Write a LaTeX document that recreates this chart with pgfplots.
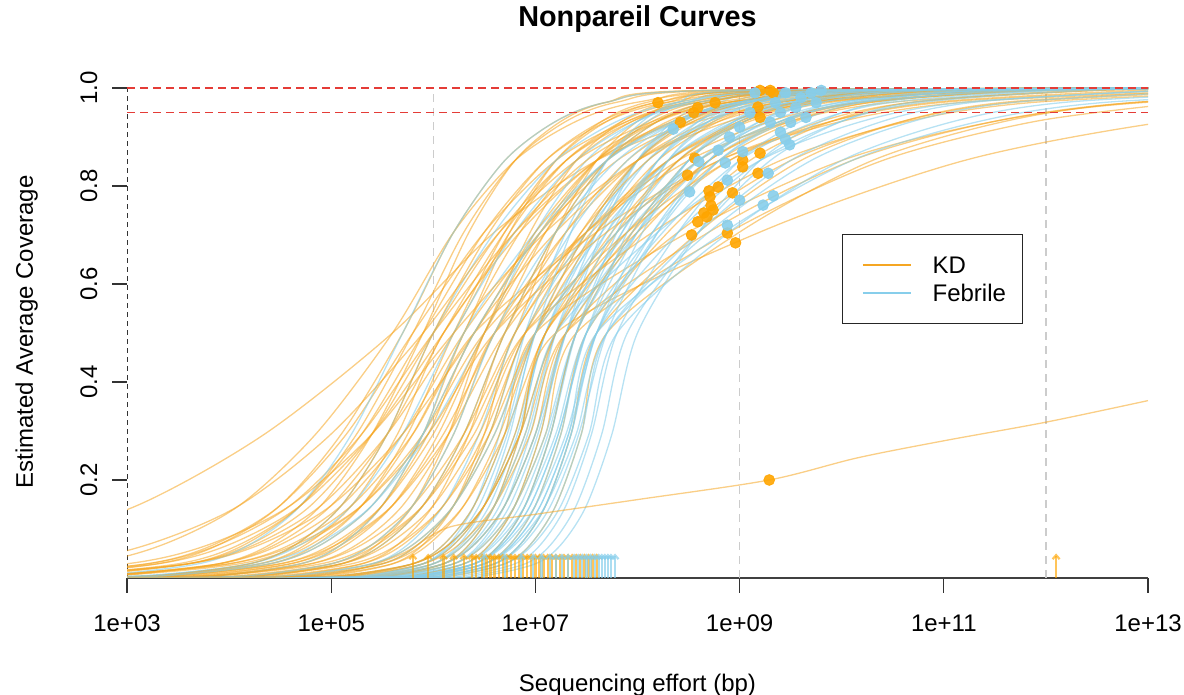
\documentclass[border=0pt]{standalone}
\usepackage{pgfplots}
\pgfplotsset{compat=1.18}
\usepackage{fontspec}
\setmainfont{Liberation Sans}
\usetikzlibrary{arrows.meta}

\definecolor{kdcol}{RGB}{245,166,35}
\definecolor{febcol}{RGB}{135,206,235}
\definecolor{kddot}{RGB}{255,165,0}
\definecolor{febdot}{RGB}{135,206,235}
\definecolor{refred}{RGB}{228,60,55}

\pgfplotsset{
  kd/.style={draw=kdcol, line width=0.65pt, draw opacity=0.55, smooth},
  feb/.style={draw=febcol, line width=0.65pt, draw opacity=0.6, smooth},
}

\begin{document}
\begin{tikzpicture}
\useasboundingbox (0,0) rectangle (592pt,347.5pt);
\begin{axis}[
  at={(63.5pt,58.5pt)}, anchor=south west,
  scale only axis, width=510.5pt, height=245pt,
  xmin=3, xmax=13, ymin=0, ymax=1,
  axis x line*=bottom, axis y line*=left,
  x axis line style={-, black!75, line width=0.7pt},
  y axis line style={-, black!80, line width=0.5pt, dash pattern=on 2.5pt off 2pt},
  xtick={3,5,7,9,11,13},
  xticklabels={1e+03,1e+05,1e+07,1e+09,1e+11,1e+13},
  ytick={0.2,0.4,0.6,0.8,1.0},
  yticklabels={0.2,0.4,0.6,0.8,1.0},
  minor tick num=0,
  tick align=outside, major tick length=7.5pt,
  tick style={black!80, line width=0.6pt},
  font=\fontsize{12}{14}\selectfont,
  xticklabel style={anchor=base},
  yticklabel style={rotate=90, anchor=base},
  xticklabel shift=19.5pt,
  yticklabel shift=7.5pt,
  title={Nonpareil Curves},
  title style={at={(axis description cs:0.5,1.1)}, anchor=base, font=\bfseries\fontsize{14.4}{17}\selectfont},
  xlabel={Sequencing effort (bp)},
  xlabel style={at={(axis description cs:0.5,-0.2316)}, anchor=base},
  ylabel={Estimated Average Coverage},
  ylabel style={at={(axis description cs:-0.0921,0.502)}, anchor=base},
  legend style={at={(axis description cs:0.7,0.702)}, anchor=north west,
    draw=black!85, line width=0.6pt, fill=white,
    font=\fontsize{12}{14}\selectfont,
    inner xsep=8.4pt, inner ysep=10.9pt, row sep=5.4pt,
    nodes={inner sep=0pt, text height=8.6pt, text depth=0pt}},
  legend cell align=left,
  legend image code/.code={\path (-1.6pt,0pt); \draw[#1, draw opacity=1] (0pt,0pt) -- (24pt,0pt); \path (34.5pt,0pt);},
]
\addlegendimage{kd}
\addlegendentry{KD}
\addlegendimage{feb}
\addlegendentry{Febrile}

% reference effort levels (1 Mbp, 1 Gbp, 1 Tbp)
\addplot[gray!40, line width=0.6pt, dash pattern=on 4pt off 3pt] coordinates {(6,0)(6,1)};
\addplot[gray!40, line width=0.6pt, dash pattern=on 4pt off 3pt] coordinates {(9,0)(9,1)};
\addplot[gray!40, line width=0.6pt, dash pattern=on 4pt off 3pt] coordinates {(12,0)(12,1)};

% KD curves (x = log10 of sequencing effort)
\addplot[kd] coordinates {(-4.4,.001)(-1.9,.005)(0.6,.029)(1.85,.068)(3.1,.148)(4.35,.294)(5.6,.5)(6.6,.706)(7.6,.852)(8.6,.932)(9.6,.971)(11.6,.995)(14,1)};
\addplot[kd] coordinates {(-0.4,.001)(1.1,.005)(2.6,.029)(3.35,.068)(4.1,.148)(4.85,.294)(5.6,.5)(6.2,.706)(6.8,.852)(7.4,.932)(8,.971)(9.2,.995)(14,1)};
\addplot[kd] coordinates {(0.9,.001)(2.1,.005)(3.3,.029)(3.9,.068)(4.5,.148)(5.1,.294)(5.7,.5)(6.2,.706)(6.7,.852)(7.2,.932)(7.7,.971)(8.7,.995)(14,1)};
\addplot[kd] coordinates {(0.6,.001)(1.9,.005)(3.2,.029)(3.85,.068)(4.5,.148)(5.15,.294)(5.8,.5)(6.5,.706)(7.2,.852)(7.9,.932)(8.6,.971)(10,.995)(14,1)};
\addplot[kd] coordinates {(1.9,.001)(2.9,.005)(3.9,.029)(4.4,.068)(4.9,.148)(5.4,.294)(5.9,.5)(6.35,.706)(6.8,.852)(7.25,.932)(7.7,.971)(8.6,.995)(14,1)};
\addplot[kd] coordinates {(0.4,.001)(1.8,.005)(3.2,.029)(3.9,.068)(4.6,.148)(5.3,.294)(6,.5)(6.8,.706)(7.6,.852)(8.4,.932)(9.2,.971)(10.8,.995)(14,1)};
\addplot[kd] coordinates {(1.7,.001)(2.8,.005)(3.9,.029)(4.45,.068)(5,.148)(5.55,.294)(6.1,.5)(6.7,.706)(7.3,.852)(7.9,.932)(8.5,.971)(9.7,.995)(14,1)};
\addplot[kd] coordinates {(2,0)(2.6,.001)(3.5,.005)(4.4,.029)(4.85,.068)(5.3,.148)(5.75,.294)(6.2,.5)(6.7,.706)(7.2,.852)(7.7,.932)(8.2,.971)(9.2,.995)(14,1)};
\addplot[kd] coordinates {(1.5,.001)(2.7,.005)(3.9,.029)(4.5,.068)(5.1,.148)(5.7,.294)(6.3,.5)(7.05,.706)(7.8,.852)(8.55,.932)(9.3,.971)(10.8,.995)(14,1)};
\addplot[kd] coordinates {(2,0)(3.1,.001)(3.9,.005)(4.7,.029)(5.1,.068)(5.5,.148)(5.9,.294)(6.3,.5)(6.85,.706)(7.4,.852)(7.95,.932)(8.5,.971)(9.6,.995)(14,1)};
\addplot[kd] coordinates {(2,0)(2.4,.001)(3.4,.005)(4.4,.029)(4.9,.068)(5.4,.148)(5.9,.294)(6.4,.5)(7.05,.706)(7.7,.852)(8.35,.932)(9,.971)(10.3,.995)(14,1)};
\addplot[kd] coordinates {(2,0)(2.9,.001)(3.8,.005)(4.7,.029)(5.15,.068)(5.6,.148)(6.05,.294)(6.5,.5)(6.95,.706)(7.4,.852)(7.85,.932)(8.3,.971)(9.2,.995)(14,1)};
\addplot[kd] coordinates {(1.7,.001)(2.9,.005)(4.1,.029)(4.7,.068)(5.3,.148)(5.9,.294)(6.5,.5)(7.5,.706)(8.5,.852)(9.5,.932)(10.5,.971)(12.5,.995)(14,1)};
\addplot[kd] coordinates {(2,0)(3.4,.001)(4.2,.005)(5,.029)(5.4,.068)(5.8,.148)(6.2,.294)(6.6,.5)(7.3,.706)(8,.852)(8.7,.932)(9.4,.971)(10.8,.995)(14,1)};
\addplot[kd] coordinates {(2,0)(2.6,.001)(3.6,.005)(4.6,.029)(5.1,.068)(5.6,.148)(6.1,.294)(6.6,.5)(7.1,.706)(7.6,.852)(8.1,.932)(8.6,.971)(9.6,.995)(14,1)};
\addplot[kd] coordinates {(2,0)(3.9,.001)(4.6,.005)(5.3,.029)(5.65,.068)(6,.148)(6.35,.294)(6.7,.5)(7.3,.706)(7.9,.852)(8.5,.932)(9.1,.971)(10.3,.995)(14,1)};
\addplot[kd] coordinates {(2,0)(2.3,.001)(3.4,.005)(4.5,.029)(5.05,.068)(5.6,.148)(6.15,.294)(6.7,.5)(7.5,.706)(8.3,.852)(9.1,.932)(9.9,.971)(11.5,.995)(14,1)};
\addplot[kd] coordinates {(2,0)(3.2,.001)(4.1,.005)(5,.029)(5.45,.068)(5.9,.148)(6.35,.294)(6.8,.5)(7.2,.706)(7.6,.852)(8,.932)(8.4,.971)(9.2,.995)(14,1)};
\addplot[kd] coordinates {(2,0)(4.4,.001)(5,.005)(5.6,.029)(5.9,.068)(6.2,.148)(6.5,.294)(6.8,.5)(7.55,.706)(8.3,.852)(9.05,.932)(9.8,.971)(11.3,.995)(14,1)};
\addplot[kd] coordinates {(2,0)(3.7,.001)(4.5,.005)(5.3,.029)(5.7,.068)(6.1,.148)(6.5,.294)(6.9,.5)(7.45,.706)(8,.852)(8.55,.932)(9.1,.971)(10.2,.995)(14,1)};
\addplot[kd] coordinates {(1.4,.001)(2.5,.005)(3.6,.029)(4.15,.068)(4.7,.148)(5.25,.294)(5.8,.5)(6.3,.706)(6.8,.852)(7.3,.932)(7.8,.971)(8.8,.995)(14,1)};
\addplot[kd] coordinates {(1.2,.001)(2.4,.005)(3.6,.029)(4.2,.068)(4.8,.148)(5.4,.294)(6,.5)(6.65,.706)(7.3,.852)(7.95,.932)(8.6,.971)(9.9,.995)(14,1)};
\addplot[kd] coordinates {(2,0)(2.5,.001)(3.4,.005)(4.3,.029)(4.75,.068)(5.2,.148)(5.65,.294)(6.1,.5)(6.85,.706)(7.6,.852)(8.35,.932)(9.1,.971)(10.6,.995)(14,1)};
\addplot[kd] coordinates {(1,.001)(2.3,.005)(3.6,.029)(4.25,.068)(4.9,.148)(5.55,.294)(6.2,.5)(6.75,.706)(7.3,.852)(7.85,.932)(8.4,.971)(9.5,.995)(14,1)};
\addplot[kd] coordinates {(2,0)(2.3,.001)(3.3,.005)(4.3,.029)(4.8,.068)(5.3,.148)(5.8,.294)(6.3,.5)(6.75,.706)(7.2,.852)(7.65,.932)(8.1,.971)(9,.995)(14,1)};

% Febrile curves
\addplot[feb] coordinates {(1.7,.001)(2.7,.005)(3.7,.029)(4.2,.068)(4.7,.148)(5.2,.294)(5.7,.5)(6.2,.706)(6.7,.852)(7.2,.932)(7.7,.971)(8.7,.995)(14,1)};
\addplot[feb] coordinates {(2,0)(2.4,.001)(3.3,.005)(4.2,.029)(4.65,.068)(5.1,.148)(5.55,.294)(6,.5)(6.6,.706)(7.2,.852)(7.8,.932)(8.4,.971)(9.6,.995)(14,1)};
\addplot[feb] coordinates {(2,0)(3.1,.001)(3.9,.005)(4.7,.029)(5.1,.068)(5.5,.148)(5.9,.294)(6.3,.5)(7,.706)(7.7,.852)(8.4,.932)(9.1,.971)(10.5,.995)(14,1)};
\addplot[feb] coordinates {(2,0)(2.1,.001)(3.2,.005)(4.3,.029)(4.85,.068)(5.4,.148)(5.95,.294)(6.5,.5)(7,.706)(7.5,.852)(8,.932)(8.5,.971)(9.5,.995)(14,1)};
\addplot[feb] coordinates {(2,0)(4,.001)(4.7,.005)(5.4,.029)(5.75,.068)(6.1,.148)(6.45,.294)(6.8,.5)(7.35,.706)(7.9,.852)(8.45,.932)(9,.971)(10.1,.995)(14,1)};
\addplot[feb] coordinates {(2,0)(4.9,.001)(5.4,.005)(5.9,.029)(6.15,.068)(6.4,.148)(6.65,.294)(6.9,.5)(7.3,.706)(7.7,.852)(8.1,.932)(8.5,.971)(9.3,.995)(14,1)};
\addplot[feb] coordinates {(2,0)(5,.001)(5.5,.005)(6,.029)(6.25,.068)(6.5,.148)(6.75,.294)(7,.5)(7.5,.706)(8,.852)(8.5,.932)(9,.971)(10,.995)(14,1)};
\addplot[feb] coordinates {(2,0)(4.6,.001)(5.2,.005)(5.8,.029)(6.1,.068)(6.4,.148)(6.7,.294)(7,.5)(7.65,.706)(8.3,.852)(8.95,.932)(9.6,.971)(10.9,.995)(14,1)};
\addplot[feb] coordinates {(2,0)(4.9,.001)(5.45,.005)(6,.029)(6.275,.068)(6.55,.148)(6.825,.294)(7.1,.5)(7.55,.706)(8,.852)(8.45,.932)(8.9,.971)(9.8,.995)(14,1)};
\addplot[feb] coordinates {(2,0)(5.1,.001)(5.6,.005)(6.1,.029)(6.35,.068)(6.6,.148)(6.85,.294)(7.1,.5)(7.7,.706)(8.3,.852)(8.9,.932)(9.5,.971)(10.7,.995)(14,1)};
\addplot[feb] coordinates {(2,0)(5.2,.001)(5.7,.005)(6.2,.029)(6.45,.068)(6.7,.148)(6.95,.294)(7.2,.5)(7.6,.706)(8,.852)(8.4,.932)(8.8,.971)(9.6,.995)(14,1)};
\addplot[feb] coordinates {(2,0)(5,.001)(5.55,.005)(6.1,.029)(6.375,.068)(6.65,.148)(6.925,.294)(7.2,.5)(7.7,.706)(8.2,.852)(8.7,.932)(9.2,.971)(10.2,.995)(14,1)};
\addplot[feb] coordinates {(2,0)(5.3,.001)(5.8,.005)(6.3,.029)(6.55,.068)(6.8,.148)(7.05,.294)(7.3,.5)(7.85,.706)(8.4,.852)(8.95,.932)(9.5,.971)(10.6,.995)(14,1)};
\addplot[feb] coordinates {(2,0)(5.1,.001)(5.65,.005)(6.2,.029)(6.475,.068)(6.75,.148)(7.025,.294)(7.3,.5)(7.65,.706)(8,.852)(8.35,.932)(8.7,.971)(9.4,.995)(14,1)};
\addplot[feb] coordinates {(2,0)(4.9,.001)(5.5,.005)(6.1,.029)(6.4,.068)(6.7,.148)(7,.294)(7.3,.5)(8,.706)(8.7,.852)(9.4,.932)(10.1,.971)(11.5,.995)(14,1)};
\addplot[feb] coordinates {(2,0)(5.2,.001)(5.75,.005)(6.3,.029)(6.575,.068)(6.85,.148)(7.125,.294)(7.4,.5)(7.85,.706)(8.3,.852)(8.75,.932)(9.2,.971)(10.1,.995)(14,1)};
\addplot[feb] coordinates {(2,0)(5.4,.001)(5.9,.005)(6.4,.029)(6.65,.068)(6.9,.148)(7.15,.294)(7.4,.5)(8,.706)(8.6,.852)(9.2,.932)(9.8,.971)(11,.995)(14,1)};
\addplot[feb] coordinates {(2,0)(2.2,.001)(3.2,.005)(4.2,.029)(4.7,.068)(5.2,.148)(5.7,.294)(6.2,.5)(6.8,.706)(7.4,.852)(8,.932)(8.6,.971)(9.8,.995)(14,1)};
\addplot[feb] coordinates {(2,0)(3.5,.001)(4.3,.005)(5.1,.029)(5.5,.068)(5.9,.148)(6.3,.294)(6.7,.5)(7.2,.706)(7.7,.852)(8.2,.932)(8.7,.971)(9.7,.995)(14,1)};
\addplot[feb] coordinates {(2,0)(4.1,.001)(4.8,.005)(5.5,.029)(5.85,.068)(6.2,.148)(6.55,.294)(6.9,.5)(7.5,.706)(8.1,.852)(8.7,.932)(9.3,.971)(10.5,.995)(14,1)};
\addplot[feb] coordinates {(2,0)(4.7,.001)(5.3,.005)(5.9,.029)(6.2,.068)(6.5,.148)(6.8,.294)(7.1,.5)(7.6,.706)(8.1,.852)(8.6,.932)(9.1,.971)(10.1,.995)(14,1)};
\addplot[feb] coordinates {(2,0)(4.4,.001)(5.1,.005)(5.8,.029)(6.15,.068)(6.5,.148)(6.85,.294)(7.2,.5)(7.9,.706)(8.6,.852)(9.3,.932)(10,.971)(11.4,.995)(14,1)};

\addplot[kd] coordinates {(2,0)(2.9,.001)(3.9,.005)(4.9,.029)(5.4,.068)(5.9,.148)(6.4,.294)(6.9,.5)(8.15,.706)(9.4,.852)(10.65,.932)(11.9,.971)(14.4,.995)};
\addplot[kd] coordinates {(2,0)(4.2,.001)(4.9,.005)(5.6,.029)(5.95,.068)(6.3,.148)(6.65,.294)(7,.5)(7.5,.706)(8,.852)(8.5,.932)(9,.971)(10,.995)(14,1)};
\addplot[kd] coordinates {(2,0)(4.6,.001)(5.2,.005)(5.8,.029)(6.1,.068)(6.4,.148)(6.7,.294)(7,.5)(8.5,.706)(10,.852)(11.5,.932)(13,.971)(16,.995)};
\addplot[kd] coordinates {(2,0)(3.9,.001)(4.7,.005)(5.5,.029)(5.9,.068)(6.3,.148)(6.7,.294)(7.1,.5)(7.75,.706)(8.4,.852)(9.05,.932)(9.7,.971)(11,.995)(14,1)};
\addplot[kd] coordinates {(2,0)(5.1,.001)(5.6,.005)(6.1,.029)(6.35,.068)(6.6,.148)(6.85,.294)(7.1,.5)(8,.706)(8.9,.852)(9.8,.932)(10.7,.971)(12.5,.995)(14,1)};
\addplot[kd] coordinates {(2,0)(4.8,.001)(5.4,.005)(6,.029)(6.3,.068)(6.6,.148)(6.9,.294)(7.2,.5)(7.8,.706)(8.4,.852)(9,.932)(9.6,.971)(10.8,.995)(14,1)};
\addplot[kd] coordinates {(2,0)(4.4,.001)(5.1,.005)(5.8,.029)(6.15,.068)(6.5,.148)(6.85,.294)(7.2,.5)(9.2,.706)(11.2,.852)(13.2,.932)(15.2,.971)};
\addplot[kd] coordinates {(2,0)(5.3,.001)(5.8,.005)(6.3,.029)(6.55,.068)(6.8,.148)(7.05,.294)(7.3,.5)(8.05,.706)(8.8,.852)(9.55,.932)(10.3,.971)(11.8,.995)(14,1)};
\addplot[kd] coordinates {(2,0)(4.9,.001)(5.5,.005)(6.1,.029)(6.4,.068)(6.7,.148)(7,.294)(7.3,.5)(8.4,.706)(9.5,.852)(10.6,.932)(11.7,.971)(13.9,.995)};
\addplot[kd] coordinates {(2,0)(5.4,.001)(5.9,.005)(6.4,.029)(6.65,.068)(6.9,.148)(7.15,.294)(7.4,.5)(7.95,.706)(8.5,.852)(9.05,.932)(9.6,.971)(10.7,.995)(14,1)};
\addplot[kd] coordinates {(2,0)(5,.001)(5.6,.005)(6.2,.029)(6.5,.068)(6.8,.148)(7.1,.294)(7.4,.5)(8.9,.706)(10.4,.852)(11.9,.932)(13.4,.971)};
\addplot[kd] coordinates {(2,0)(5.5,.001)(6,.005)(6.5,.029)(6.75,.068)(7,.148)(7.25,.294)(7.5,.5)(8.3,.706)(9.1,.852)(9.9,.932)(10.7,.971)(12.3,.995)(14,1)};
\addplot[kd] coordinates {(2,0)(5.6,.001)(6.1,.005)(6.6,.029)(6.85,.068)(7.1,.148)(7.35,.294)(7.6,.5)(8.6,.706)(9.6,.852)(10.6,.932)(11.6,.971)(13.6,.995)};
\addplot[kd] coordinates {(-0.2,.001)(1.4,.005)(3,.029)(3.8,.068)(4.6,.148)(5.4,.294)(6.2,.5)(7.1,.706)(8,.852)(8.9,.932)(9.8,.971)(11.6,.995)(14,1)};
\addplot[kd] coordinates {(-1.3,.001)(0.5,.005)(2.3,.029)(3.2,.068)(4.1,.148)(5,.294)(5.9,.5)(6.65,.706)(7.4,.852)(8.15,.932)(8.9,.971)(10.4,.995)(14,1)};
\addplot[kd] coordinates {(0.8,.001)(2.2,.005)(3.6,.029)(4.3,.068)(5,.148)(5.7,.294)(6.4,.5)(7,.706)(7.6,.852)(8.2,.932)(8.8,.971)(10,.995)(14,1)};
\addplot[kd] coordinates {(2,0)(3.4,.001)(4.3,.005)(5.2,.029)(5.65,.068)(6.1,.148)(6.55,.294)(7,.5)(7.8,.706)(8.6,.852)(9.4,.932)(10.2,.971)(11.8,.995)(14,1)};
\addplot[kd] coordinates {(2,0)(2.4,.001)(3.3,.005)(4.2,.029)(4.65,.068)(5.1,.148)(5.55,.294)(6,.5)(6.55,.706)(7.1,.852)(7.65,.932)(8.2,.971)(9.3,.995)(14,1)};
\addplot[kd] coordinates {(2,0)(5.7,.001)(6.2,.005)(6.7,.029)(6.95,.068)(7.2,.148)(7.45,.294)(7.7,.5)(9,.706)(10.3,.852)(11.6,.932)(12.9,.971)(15.5,.995)};
\addplot[kd] coordinates {(1.4,.001)(2.7,.005)(4,.029)(4.65,.068)(5.3,.148)(5.95,.294)(6.6,.5)(7.7,.706)(8.8,.852)(9.9,.932)(11,.971)(13.2,.995)(14,1)};
\addplot[kd] coordinates {(2,0)(2.8,.001)(3.7,.005)(4.6,.029)(5.05,.068)(5.5,.148)(5.95,.294)(6.4,.5)(7.2,.706)(8,.852)(8.8,.932)(9.6,.971)(11.2,.995)(14,1)};
\addplot[kd] coordinates {(2,0)(2.5,.001)(3.5,.005)(4.5,.029)(5,.068)(5.5,.148)(6,.294)(6.5,.5)(7.1,.706)(7.7,.852)(8.3,.932)(8.9,.971)(10.1,.995)(14,1)};
\addplot[kd] coordinates {(2,0)(3,.001)(3.9,.005)(4.8,.029)(5.25,.068)(5.7,.148)(6.15,.294)(6.6,.5)(7.5,.706)(8.4,.852)(9.3,.932)(10.2,.971)(12,.995)(14,1)};
\addplot[kd] coordinates {(2,0)(3.5,.001)(4.3,.005)(5.1,.029)(5.5,.068)(5.9,.148)(6.3,.294)(6.7,.5)(7.2,.706)(7.7,.852)(8.2,.932)(8.7,.971)(9.7,.995)(14,1)};
\addplot[kd] coordinates {(2,0)(2.8,.001)(3.8,.005)(4.8,.029)(5.3,.068)(5.8,.148)(6.3,.294)(6.8,.5)(7.45,.706)(8.1,.852)(8.75,.932)(9.4,.971)(10.7,.995)(14,1)};
\addplot[kd] coordinates {(2,0)(4.1,.001)(4.8,.005)(5.5,.029)(5.85,.068)(6.2,.148)(6.55,.294)(6.9,.5)(7.6,.706)(8.3,.852)(9,.932)(9.7,.971)(11.1,.995)(14,1)};
\addplot[kd] coordinates {(2,0)(3.8,.001)(4.6,.005)(5.4,.029)(5.8,.068)(6.2,.148)(6.6,.294)(7,.5)(7.6,.706)(8.2,.852)(8.8,.932)(9.4,.971)(10.6,.995)(14,1)};
\addplot[kd] coordinates {(2,0)(4.7,.001)(5.3,.005)(5.9,.029)(6.2,.068)(6.5,.148)(6.8,.294)(7.1,.5)(7.9,.706)(8.7,.852)(9.5,.932)(10.3,.971)(11.9,.995)(14,1)};
\addplot[kd] coordinates {(1.6,.001)(2.8,.005)(4,.029)(4.6,.068)(5.2,.148)(5.8,.294)(6.4,.5)(7.6,.706)(8.8,.852)(10,.932)(11.2,.971)(13.6,.995)};
\addplot[kd] coordinates {(0.5,.001)(1.9,.005)(3.3,.029)(4,.068)(4.7,.148)(5.4,.294)(6.1,.5)(6.8,.706)(7.5,.852)(8.2,.932)(8.9,.971)(10.3,.995)(14,1)};
\addplot[kd] coordinates {(1.1,.001)(2.3,.005)(3.5,.029)(4.1,.068)(4.7,.148)(5.3,.294)(5.9,.5)(6.5,.706)(7.1,.852)(7.7,.932)(8.3,.971)(9.5,.995)(14,1)};
\addplot[kd] coordinates {(2,0)(4.4,.001)(5.1,.005)(5.8,.029)(6.15,.068)(6.5,.148)(6.85,.294)(7.2,.5)(7.95,.706)(8.7,.852)(9.45,.932)(10.2,.971)(11.7,.995)(14,1)};
\addplot[kd] coordinates {(2,0)(3.7,.001)(4.4,.005)(5.1,.029)(5.45,.068)(5.8,.148)(6.15,.294)(6.5,.5)(7.05,.706)(7.6,.852)(8.15,.932)(8.7,.971)(9.8,.995)(14,1)};
\addplot[kd] coordinates {(2,0)(4.5,.001)(5.2,.005)(5.9,.029)(6.25,.068)(6.6,.148)(6.95,.294)(7.3,.5)(8.7,.706)(10.1,.852)(11.5,.932)(12.9,.971)(15.7,.995)};
\addplot[kd] coordinates {(2,0)(3.3,.001)(4.2,.005)(5.1,.029)(5.55,.068)(6,.148)(6.45,.294)(6.9,.5)(7.9,.706)(8.9,.852)(9.9,.932)(10.9,.971)(12.9,.995)(14,1)};

\addplot[feb] coordinates {(2,0)(5.4,.001)(5.9,.005)(6.4,.029)(6.65,.068)(6.9,.148)(7.15,.294)(7.4,.5)(7.8,.706)(8.2,.852)(8.6,.932)(9,.971)(9.8,.995)(14,1)};
\addplot[feb] coordinates {(2,0)(5.3,.001)(5.85,.005)(6.4,.029)(6.675,.068)(6.95,.148)(7.225,.294)(7.5,.5)(8,.706)(8.5,.852)(9,.932)(9.5,.971)(10.5,.995)(14,1)};
\addplot[feb] coordinates {(2,0)(5.5,.001)(6,.005)(6.5,.029)(6.75,.068)(7,.148)(7.25,.294)(7.5,.5)(8.15,.706)(8.8,.852)(9.45,.932)(10.1,.971)(11.4,.995)(14,1)};
\addplot[feb] coordinates {(2,0)(5.3,.001)(5.85,.005)(6.4,.029)(6.675,.068)(6.95,.148)(7.225,.294)(7.5,.5)(7.9,.706)(8.3,.852)(8.7,.932)(9.1,.971)(9.9,.995)(14,1)};
\addplot[feb] coordinates {(2,0)(5.6,.001)(6.1,.005)(6.6,.029)(6.85,.068)(7.1,.148)(7.35,.294)(7.6,.5)(8.15,.706)(8.7,.852)(9.25,.932)(9.8,.971)(10.9,.995)(14,1)};
\addplot[feb] coordinates {(2,0)(5.4,.001)(5.95,.005)(6.5,.029)(6.775,.068)(7.05,.148)(7.325,.294)(7.6,.5)(8.05,.706)(8.5,.852)(8.95,.932)(9.4,.971)(10.3,.995)(14,1)};
\addplot[feb] coordinates {(2,0)(5.6,.001)(6.1,.005)(6.6,.029)(6.85,.068)(7.1,.148)(7.35,.294)(7.6,.5)(8.4,.706)(9.2,.852)(10,.932)(10.8,.971)(12.4,.995)(14,1)};
\addplot[feb] coordinates {(2,0)(5.5,.001)(6.05,.005)(6.6,.029)(6.875,.068)(7.15,.148)(7.425,.294)(7.7,.5)(8.2,.706)(8.7,.852)(9.2,.932)(9.7,.971)(10.7,.995)(14,1)};
\addplot[feb] coordinates {(2,0)(5.7,.001)(6.2,.005)(6.7,.029)(6.95,.068)(7.2,.148)(7.45,.294)(7.7,.5)(8.6,.706)(9.5,.852)(10.4,.932)(11.3,.971)(13.1,.995)(14,1)};
\addplot[feb] coordinates {(2,0)(5.8,.001)(6.3,.005)(6.8,.029)(7.05,.068)(7.3,.148)(7.55,.294)(7.8,.5)(8.4,.706)(9,.852)(9.6,.932)(10.2,.971)(11.4,.995)(14,1)};
\addplot[feb] coordinates {(2,0)(5.6,.001)(6.15,.005)(6.7,.029)(6.975,.068)(7.25,.148)(7.525,.294)(7.8,.5)(8.9,.706)(10,.852)(11.1,.932)(12.2,.971)(14.4,.995)};
\addplot[feb] coordinates {(2,0)(5.9,.001)(6.4,.005)(6.9,.029)(7.15,.068)(7.4,.148)(7.65,.294)(7.9,.5)(8.6,.706)(9.3,.852)(10,.932)(10.7,.971)(12.1,.995)(14,1)};
\addplot[feb] coordinates {(2,0)(6,.001)(6.5,.005)(7,.029)(7.25,.068)(7.5,.148)(7.75,.294)(8,.5)(8.6,.706)(9.2,.852)(9.8,.932)(10.4,.971)(11.6,.995)(14,1)};
\addplot[feb] coordinates {(2,0)(4.8,.001)(5.4,.005)(6,.029)(6.3,.068)(6.6,.148)(6.9,.294)(7.2,.5)(8.2,.706)(9.2,.852)(10.2,.932)(11.2,.971)(13.2,.995)(14,1)};
\addplot[feb] coordinates {(2,0)(3.4,.001)(4.2,.005)(5,.029)(5.4,.068)(5.8,.148)(6.2,.294)(6.6,.5)(7.2,.706)(7.8,.852)(8.4,.932)(9,.971)(10.2,.995)(14,1)};
\addplot[feb] coordinates {(2,0)(4.8,.001)(5.35,.005)(5.9,.029)(6.175,.068)(6.45,.148)(6.725,.294)(7,.5)(7.35,.706)(7.7,.852)(8.05,.932)(8.4,.971)(9.1,.995)(14,1)};
\addplot[feb] coordinates {(2,0)(5.4,.001)(5.95,.005)(6.5,.029)(6.775,.068)(7.05,.148)(7.325,.294)(7.6,.5)(8.85,.706)(10.1,.852)(11.35,.932)(12.6,.971)(15.1,.995)};
\addplot[feb] coordinates {(2,0)(4.9,.001)(5.5,.005)(6.1,.029)(6.4,.068)(6.7,.148)(7,.294)(7.3,.5)(7.75,.706)(8.2,.852)(8.65,.932)(9.1,.971)(10,.995)(14,1)};
\addplot[feb] coordinates {(2,0)(5,.001)(5.6,.005)(6.2,.029)(6.5,.068)(6.8,.148)(7.1,.294)(7.4,.5)(7.95,.706)(8.5,.852)(9.05,.932)(9.6,.971)(10.7,.995)(14,1)};
\addplot[feb] coordinates {(2,0)(5.1,.001)(5.7,.005)(6.3,.029)(6.6,.068)(6.9,.148)(7.2,.294)(7.5,.5)(8.25,.706)(9,.852)(9.75,.932)(10.5,.971)(12,.995)(14,1)};
\addplot[feb] coordinates {(2,0)(3.8,.001)(4.6,.005)(5.4,.029)(5.8,.068)(6.2,.148)(6.6,.294)(7,.5)(7.8,.706)(8.6,.852)(9.4,.932)(10.2,.971)(11.8,.995)(14,1)};
\addplot[feb] coordinates {(2,0)(2.4,.001)(3.4,.005)(4.4,.029)(4.9,.068)(5.4,.148)(5.9,.294)(6.4,.5)(7.05,.706)(7.7,.852)(8.35,.932)(9,.971)(10.3,.995)(14,1)};
\addplot[feb] coordinates {(2,0)(5.2,.001)(5.8,.005)(6.4,.029)(6.7,.068)(7,.148)(7.3,.294)(7.6,.5)(8.2,.706)(8.8,.852)(9.4,.932)(10,.971)(11.2,.995)(14,1)};
\addplot[feb] coordinates {(2,0)(5.3,.001)(5.9,.005)(6.5,.029)(6.8,.068)(7.1,.148)(7.4,.294)(7.7,.5)(8.7,.706)(9.7,.852)(10.7,.932)(11.7,.971)(13.7,.995)};

% the one low-coverage KD sample
\addplot[kd] coordinates {(2,0)(4.5,.002)(5.2,.015)(5.7,.05)(6.16,.104)(7,.13)(8,.16)(9.29,.2)(10.15,.245)(11,.28)(12,.318)(13,.362)};

% diversity (Nd) arrows along the bottom
\addplot[kddot, opacity=0.65, line width=1.1pt, quiver={u=0, v=0.05}, -{Straight Barb[length=2pt, width=3.5pt]}]
  coordinates {(5.8,0)(5.95,0)(6.1,0)(6.2,0)(6.3,0)(6.38,0)(6.42,0)(6.48,0)(6.52,0)(6.56,0)(6.6,0)(6.64,0)(6.68,0)(6.72,0)(6.76,0)(6.8,0)(6.84,0)(6.88,0)(6.92,0)(6.96,0)(7.0,0)(7.04,0)(7.08,0)(7.12,0)(7.16,0)(7.2,0)(7.24,0)(7.28,0)(7.32,0)(7.36,0)(7.4,0)(7.44,0)(7.48,0)(7.52,0)(7.56,0)(7.6,0)(12.1,0)};
\addplot[febdot, opacity=0.7, line width=1.1pt, quiver={u=0, v=0.05}, -{Straight Barb[length=2pt, width=3.5pt]}]
  coordinates {(6.5,0)(6.7,0)(6.86,0)(6.98,0)(7.06,0)(7.14,0)(7.2,0)(7.26,0)(7.32,0)(7.38,0)(7.42,0)(7.46,0)(7.5,0)(7.54,0)(7.58,0)(7.62,0)(7.65,0)(7.68,0)(7.71,0)(7.74,0)(7.78,0)};

% observed sequencing effort and coverage of each sample
\addplot[only marks, color=kddot, mark=*, mark size=2.7pt, opacity=0.9]
  coordinates {(8.42,0.93)(8.59,0.96)(8.76,0.97)(9.18,0.961)(9.2,0.94)(9.33,0.99)(9.03,0.853)(9.2,0.867)(8.56,0.857)(8.49,0.822)(9.03,0.839)(9.18,0.826)(8.79,0.798)(8.93,0.786)(8.71,0.778)(8.74,0.751)(8.68,0.737)(8.59,0.727)(8.53,0.70)(8.88,0.704)(8.96,0.684)(9.2,0.995)(9.3,0.995)(8.72,0.76)(8.65,0.745)(8.7,0.79)(8.55,0.95)(8.2,0.97)(9.29,0.2)};
\addplot[only marks, color=febdot, mark=*, mark size=2.7pt, opacity=0.9]
  coordinates {(8.35,0.916)(8.79,0.873)(9.03,0.87)(9.49,0.884)(8.86,0.847)(9.28,0.826)(8.88,0.812)(9.0,0.771)(9.23,0.761)(9.33,0.78)(8.88,0.72)(8.51,0.788)(9.35,0.97)(9.4,0.95)(9.45,0.99)(9.5,0.93)(9.55,0.96)(9.6,0.98)(9.65,0.94)(9.7,0.99)(9.75,0.97)(9.4,0.91)(9.3,0.93)(9.1,0.95)(9.0,0.92)(9.8,0.995)(9.15,0.99)(8.9,0.9)(9.45,0.895)(8.6,0.85)};

% target coverage levels
\addplot[refred, line width=0.75pt, dash pattern=on 4pt off 2.5pt] coordinates {(3,1)(13,1)};
\addplot[refred, line width=0.75pt, dash pattern=on 4pt off 2.5pt] coordinates {(3,0.95)(13,0.95)};
\end{axis}
\end{tikzpicture}
\end{document}
